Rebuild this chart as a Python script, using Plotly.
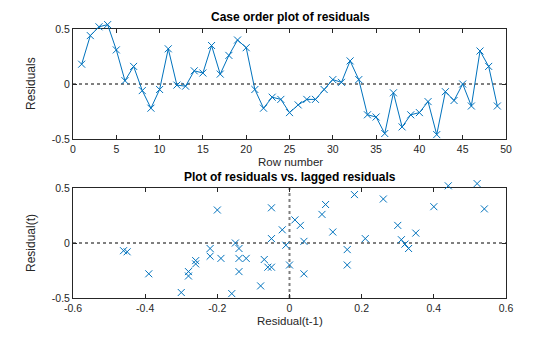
import plotly.graph_objects as go

row_number = list(range(1, 50))
residuals = [0.18, 0.44, 0.52, 0.54, 0.31, 0.03, 0.16, -0.06, -0.22, -0.05,
             0.32, -0.01, -0.02, 0.12, 0.10, 0.35, 0.09, 0.26, 0.40, 0.33,
             -0.05, -0.22, -0.12, -0.14, -0.26, -0.19, -0.14, -0.14, -0.05, 0.04,
             0.015, 0.21, 0.04, -0.28, -0.30, -0.45, -0.08, -0.39, -0.28, -0.26,
             -0.16, -0.46, -0.07, -0.15, 0.00, -0.20, 0.30, 0.16, -0.20]

lagged = residuals[:-1]
current = residuals[1:]

top_xticks = [0, 5, 10, 15, 20, 25, 30, 35, 40, 45, 50]
bot_xticks = [-0.6, -0.4, -0.2, 0, 0.2, 0.4, 0.6]
yticks = [-0.5, 0, 0.5]

blue = "#0072BD"
font = dict(family="Liberation Sans, Arial, sans-serif", size=11, color="#262626")

W, H = 560, 337
xd = [73/W, 506/W]
top_px = (29, 139)
bot_px = (188, 298)
extra = 12  # px of headroom on helper axes so marks above 0.5 are not hidden
unit_px = 110.0

def dom(px):
    return [1 - px[1]/H, 1 - px[0]/H]

fig = go.Figure()
fig.add_trace(go.Scatter(x=row_number, y=residuals, mode="lines+markers",
                         line=dict(color=blue, width=1),
                         marker=dict(symbol="x-thin", size=7, line=dict(color=blue, width=1)),
                         cliponaxis=False, xaxis="x", yaxis="y3", showlegend=False))
fig.add_trace(go.Scatter(x=lagged, y=current, mode="markers",
                         marker=dict(symbol="x-thin", size=7, line=dict(color=blue, width=1)),
                         cliponaxis=False, xaxis="x2", yaxis="y4", showlegend=False))

axis_common = dict(showgrid=False, zeroline=False, showline=True, linecolor="#262626",
                   linewidth=1, mirror="ticks", ticks="inside", ticklen=4, automargin=False,
                   tickcolor="#262626", tickfont=dict(size=10.5, color="#262626"))

fig.update_layout(
    width=W, height=H, margin=dict(l=0, r=0, t=0, b=0),
    paper_bgcolor="white", plot_bgcolor="rgba(0,0,0,0)", font=font,
    xaxis=dict(domain=xd, range=[0, 50], tickvals=top_xticks, anchor="y", **axis_common),
    yaxis=dict(domain=dom(top_px), range=[-0.5, 0.5], tickvals=yticks,
               ticktext=["-0.5", "0", "0.5"], anchor="x", **axis_common),
    xaxis2=dict(domain=xd, range=[-0.6, 0.6], tickvals=bot_xticks,
                ticktext=["-0.6", "-0.4", "-0.2", "0", "0.2", "0.4", "0.6"], anchor="y2", **axis_common),
    yaxis2=dict(domain=dom(bot_px), range=[-0.5, 0.5], tickvals=yticks,
                ticktext=["-0.5", "0", "0.5"], anchor="x2", **axis_common),
    yaxis3=dict(domain=dom((top_px[0]-extra, top_px[1])), range=[-0.5, 0.5 + extra/unit_px],
                anchor="x", visible=False, automargin=False),
    yaxis4=dict(domain=dom((bot_px[0]-extra, bot_px[1])), range=[-0.5, 0.5 + extra/unit_px],
                anchor="x2", visible=False, automargin=False),
)

# reference lines
fig.add_shape(type="line", xref="x", yref="y", x0=0, x1=50, y0=0, y1=0,
              line=dict(color="black", width=1, dash="dot"), layer="below")
fig.add_shape(type="line", xref="x2", yref="y2", x0=-0.6, x1=0.6, y0=0, y1=0,
              line=dict(color="#7f7f7f", width=2, dash="dot"), layer="below")
fig.add_shape(type="line", xref="x2", yref="y2", x0=0, x1=0, y0=-0.5, y1=0.5,
              line=dict(color="#7f7f7f", width=2, dash="dot"), layer="below")

def ann(text, x, y, size=12, bold=False, angle=0):
    fig.add_annotation(text=f"<b>{text}</b>" if bold else text, x=x/W, y=1-y/H,
                       xref="paper", yref="paper", showarrow=False, textangle=angle,
                       font=dict(size=size, color="black" if bold else "#262626"),
                       xanchor="center", yanchor="middle")

ann("Case order plot of residuals", 290, 17, size=12, bold=True)
ann("Row number", 290, 162, size=11.5)
ann("Residuals", 31, 84, size=12, angle=-90)
ann("Plot of residuals vs. lagged residuals", 290, 177, size=12, bold=True)
ann("Residual(t-1)", 290, 321, size=11.5)
ann("Residual(t)", 31, 243, size=12, angle=-90)

fig.write_html("out.html")
